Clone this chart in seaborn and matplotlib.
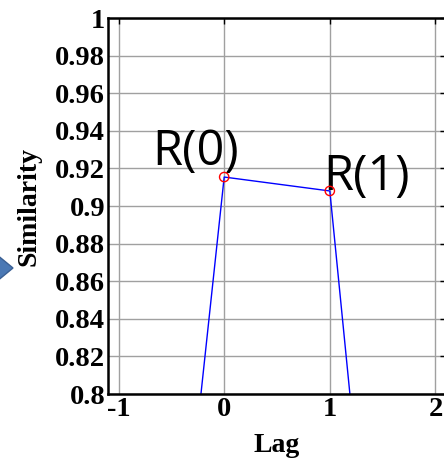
import matplotlib
matplotlib.use("Agg")
import matplotlib.pyplot as plt
import seaborn as sns
import pandas as pd
from matplotlib.patches import Polygon

# similarity vs lag
lags = [-1, 0, 1, 2]
similarity = [0.391, 0.9154, 0.908, 0.34]
peak_labels = ["R(0)", "R(1)"]
peak_lags = [0, 1]
peak_vals = [0.9154, 0.908]
yticks = [0.8, 0.82, 0.84, 0.86, 0.88, 0.9, 0.92, 0.94, 0.96, 0.98, 1]
ytick_labels = ["0.8", "0.82", "0.84", "0.86", "0.88", "0.9", "0.92", "0.94", "0.96", "0.98", "1"]
xticks = [-1, 0, 1, 2]

df = pd.DataFrame({"Lag": lags, "Similarity": similarity})
peaks = pd.DataFrame({"Lag": peak_lags, "Similarity": peak_vals})

sns.set_style("white")
plt.rcParams["font.family"] = ["Liberation Serif", "DejaVu Serif"]
plt.rcParams["text.color"] = "black"
plt.rcParams["axes.labelcolor"] = "black"
plt.rcParams["xtick.color"] = "black"
plt.rcParams["ytick.color"] = "black"

fig = plt.figure(figsize=(4.44, 4.58), dpi=100)
ax = fig.add_axes([108 / 444, 64 / 458, 338 / 444, 376 / 458])

sns.lineplot(data=df, x="Lag", y="Similarity", ax=ax, color="blue", linewidth=1)
sns.scatterplot(data=peaks, x="Lag", y="Similarity", ax=ax, marker="o", s=45,
                facecolor="none", edgecolor="red", linewidth=1, zorder=5)

ax.set_xlim(-1.1, 2.1)
ax.set_ylim(0.8, 1.0)
ax.set_xticks(xticks)
ax.set_xticklabels([str(t) for t in xticks])
ax.set_yticks(yticks)
ax.set_yticklabels(ytick_labels)
ax.grid(True, color="#a0a0a0", linewidth=1)
ax.set_axisbelow(True)
ax.tick_params(direction="in", length=4, width=1, top=True, right=True,
               labelsize=20.5, pad=2)
for lab in ax.get_xticklabels() + ax.get_yticklabels():
    lab.set_fontweight("bold")

for side in ["left", "bottom", "top"]:
    ax.spines[side].set_color("black")
    ax.spines[side].set_linewidth(1.8)
ax.spines["right"].set_visible(False)

ax.set_xlabel("Lag", fontsize=20, fontweight="bold", labelpad=8)
ax.set_ylabel("Similarity", fontsize=20, fontweight="bold", labelpad=10)

ax.annotate(peak_labels[0], (peak_lags[0], peak_vals[0]), xytext=(-52, 9),
            textcoords="offset points", fontsize=35, family="Open Sans", color="black")
ax.annotate(peak_labels[1], (peak_lags[1], peak_vals[1]), xytext=(-5, 1),
            textcoords="offset points", fontsize=35, family="Open Sans", color="black")

# piece of the neighbouring arrow on the left edge
fig.patches.append(Polygon([(-0.02, (458 - 250) / 458), (13 / 444, (458 - 268) / 458),
                            (-0.02, (458 - 286) / 458)], closed=True,
                           facecolor="#4a78b4", edgecolor="#3a5f93", transform=fig.transFigure))

fig.savefig("out.png", dpi=100)
